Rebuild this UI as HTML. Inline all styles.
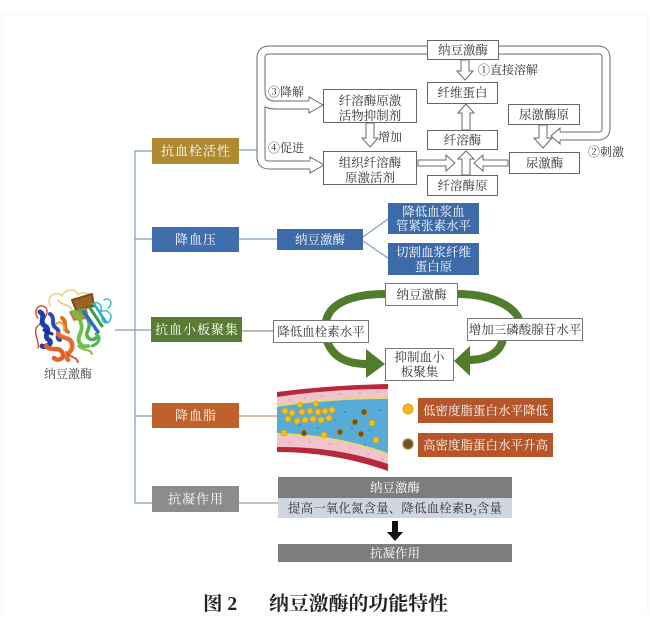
<!DOCTYPE html>
<html><head><meta charset="utf-8"><style>
html,body{margin:0;padding:0;background:#fff;}
svg{display:block;}
text{font-family:"Liberation Serif","Noto Serif CJK SC",serif;}
</style></head><body>
<svg width="650" height="618" viewBox="0 0 650 618" xmlns="http://www.w3.org/2000/svg">
<rect x="2" y="14" width="646" height="602" fill="#fff" stroke="#f6f6f6" stroke-width="1"/>

<!-- ===== Top mechanism diagram ===== -->
<g fill="none" stroke="#6a6a6a">
  <path d="M427,50 L269,50 Q261,50 261,58 L261,157 Q261,165 269,165 L310,165" stroke-width="9"/>
  <path d="M261,90 Q261,105 275,105 L309,105" stroke-width="9"/>
  <path d="M499,50 L598,50 Q606,50 606,58 L606,128 Q606,136 598,136 L560,136" stroke-width="9"/>
</g>
<g fill="none" stroke="#fff">
  <path d="M427,50 L269,50 Q261,50 261,58 L261,157 Q261,165 269,165 L310,165" stroke-width="7"/>
  <path d="M261,90 Q261,105 275,105 L309,105" stroke-width="7"/>
  <path d="M499,50 L598,50 Q606,50 606,58 L606,128 Q606,136 598,136 L560,136" stroke-width="7"/>
</g>
<g fill="#fff" stroke="#6a6a6a" stroke-width="1">
  <path d="M309,100.5 L309,97 L323,105 L309,113 L309,109.5"/>
  <path d="M310,160.5 L310,157 L324,165 L310,173 L310,169.5"/>
  <path d="M560,131.5 L560,128 L551,136 L560,144 L560,140.5"/>
  <polygon points="461,60 469,60 469,71 473,71 465,80 457,71 461,71"/>
  <polygon points="466,104 474,113 470,113 470,130 462,130 462,113 458,113"/>
  <polygon points="466,151 474,159 470,159 470,175 462,175 462,159 458,159"/>
  <polygon points="366,123 374,123 374,138 378,138 370,147 362,138 366,138"/>
  <polygon points="539,125 547,125 547,138 552,138 543,148 534,138 539,138"/>
  <polygon points="418,160 446,160 446,155 455,163 446,171 446,166 418,166"/>
  <polygon points="508,160 483,160 483,155 474,163 483,171 483,166 508,166"/>
</g>
<g fill="#fff" stroke="#666" stroke-width="1">
  <rect x="427.5" y="40.5" width="71" height="19"/>
  <rect x="427.5" y="82.5" width="70" height="21"/>
  <rect x="323.5" y="89.5" width="93" height="33"/>
  <rect x="323.5" y="151.5" width="93" height="33"/>
  <rect x="427.5" y="130.5" width="70" height="19"/>
  <rect x="427.5" y="175.5" width="70" height="20"/>
  <rect x="508.5" y="104.5" width="71" height="20"/>
  <rect x="509.5" y="152.5" width="70" height="21"/>
</g>
<g fill="#333" font-size="12.5" text-anchor="middle">
  <text x="463" y="54.5">纳豆激酶</text>
  <text x="462.5" y="97">纤维蛋白</text>
  <text x="370" y="105">纤溶酶原激</text>
  <text x="370" y="120">活物抑制剂</text>
  <text x="370" y="167">组织纤溶酶</text>
  <text x="370" y="182">原激活剂</text>
  <text x="462.5" y="144.5">纤溶酶</text>
  <text x="462.5" y="190">纤溶酶原</text>
  <text x="544" y="119">尿激酶原</text>
  <text x="544.5" y="167.5">尿激酶</text>
</g>
<g fill="#333" font-size="12">
  <text x="478" y="74">①直接溶解</text>
  <text x="268" y="96">③降解</text>
  <text x="268" y="152">④促进</text>
  <text x="378" y="141">增加</text>
  <text x="588" y="156">②刺激</text>
</g>

<!-- ===== Tree connectors ===== -->
<g fill="none" stroke="#7f9dc0" stroke-width="1.2">
  <path d="M152,151 L135,151 L135,503 L152,503"/>
  <path d="M135,239 L152,239"/>
  <path d="M115,330 L151,330"/>
  <path d="M135,416 L152,416"/>
  <path d="M239,150 L258,150"/>
  <path d="M239,239 L277,239"/>
  <path d="M363,237 L388,219"/>
  <path d="M363,241 L388,258"/>
</g>
<path d="M242,331 L273,331" stroke="#8a9a78" stroke-width="1.2"/>
<path d="M239,416 L277,416" stroke="#c99572" stroke-width="1.2"/>
<path d="M239,503 L278,503" stroke="#9a9a9a" stroke-width="1.2"/>

<!-- ===== Left colored boxes ===== -->
<rect x="152" y="138" width="87" height="26" fill="#b08a30"/>
<rect x="152" y="227" width="87" height="25" fill="#3f6eae"/>
<rect x="151" y="317" width="91" height="25" fill="#5a7b36"/>
<rect x="152" y="403" width="87" height="25" fill="#c0612c"/>
<rect x="152" y="486" width="87" height="26" fill="#8c8c8c"/>
<g fill="#fff" font-size="13" text-anchor="middle" letter-spacing="1">
  <text x="196" y="155.5">抗血栓活性</text>
  <text x="196" y="244">降血压</text>
  <text x="197" y="334">抗血小板聚集</text>
  <text x="196" y="420">降血脂</text>
  <text x="196" y="503.5">抗凝作用</text>
</g>

<!-- ===== Blood pressure ===== -->
<rect x="277" y="229" width="86" height="21" fill="#3d6aa8"/>
<rect x="388" y="203" width="91" height="31" fill="#3d6aa8"/>
<rect x="388" y="243" width="91" height="32" fill="#3d6aa8"/>
<g fill="#fff" font-size="12.5" text-anchor="middle">
  <text x="320" y="244">纳豆激酶</text>
  <text x="433.5" y="216">降低血浆血</text>
  <text x="433.5" y="230">管紧张素水平</text>
  <text x="433.5" y="256.5">切割血浆纤维</text>
  <text x="433.5" y="271">蛋白原</text>
</g>

<!-- ===== Platelet cycle ===== -->
<g fill="none" stroke="#4f7d2c" stroke-width="8">
  <path d="M326,321 C330,303 352,294 386,294"/>
  <path d="M457,294 C488,294 512,304 519,319"/>
  <path d="M327,341 C333,358 348,364 368,364"/>
  <path d="M503,339 C500,353 487,360 468,360"/>
</g>
<g fill="#4f7d2c">
  <polygon points="366,349 385,364 366,378"/>
  <polygon points="470,346 454,361 470,376"/>
</g>
<g fill="#fff" stroke="#777" stroke-width="1">
  <rect x="273.5" y="320.5" width="95" height="22"/>
  <rect x="385.5" y="283.5" width="72" height="22"/>
  <rect x="467.5" y="318.5" width="115" height="22"/>
  <rect x="385.5" y="348.5" width="68" height="32"/>
</g>
<g fill="#333" font-size="12.5" text-anchor="middle">
  <text x="321" y="336">降低血栓素水平</text>
  <text x="421.5" y="299">纳豆激酶</text>
  <text x="525" y="334">增加三磷酸腺苷水平</text>
  <text x="419.5" y="361.5">抑制血小</text>
  <text x="419.5" y="376">板聚集</text>
</g>

<!-- ===== Lipid / artery ===== -->
<path d="M277,392 Q330,385 388,384 L388,471 Q335,452 277,452 Z" fill="#b8283a"/>
<path d="M277,397 Q330,389 388,389 L388,464 Q335,446 277,447 Z" fill="#f0c3cd"/>
<path d="M277,405 Q330,397 388,397 L388,455 Q335,436 277,435 Z" fill="#e6d873"/>
<path d="M277,407 Q330,399 388,399 L388,453 Q335,434 277,433 Z" fill="#56acd6"/>
<g fill="#c98a9a">
  <circle cx="290" cy="400" r="0.8"/><circle cx="305" cy="398" r="0.8"/><circle cx="322" cy="396" r="0.8"/>
  <circle cx="340" cy="394" r="0.8"/><circle cx="360" cy="393" r="0.8"/><circle cx="378" cy="392" r="0.8"/>
  <circle cx="290" cy="442" r="0.8"/><circle cx="310" cy="442" r="0.8"/><circle cx="330" cy="444" r="0.8"/>
  <circle cx="350" cy="448" r="0.8"/><circle cx="368" cy="454" r="0.8"/><circle cx="382" cy="459" r="0.8"/>
</g>
<g fill="#2f6f9a">
  <circle cx="345" cy="412" r="0.8"/><circle cx="352" cy="428" r="0.8"/><circle cx="335" cy="420" r="0.8"/>
  <circle cx="370" cy="430" r="0.8"/><circle cx="380" cy="410" r="0.8"/><circle cx="365" cy="445" r="0.8"/>
  <circle cx="318" cy="428" r="0.8"/><circle cx="300" cy="425" r="0.8"/>
</g>
<g fill="#f2c21c" stroke="#d89a10" stroke-width="0.8">
  <circle cx="285" cy="411" r="3"/><circle cx="292" cy="413" r="3"/><circle cx="302" cy="412" r="3"/>
  <circle cx="310" cy="411" r="3"/><circle cx="318" cy="412" r="3"/><circle cx="325" cy="411" r="3"/>
  <circle cx="332" cy="410" r="3"/><circle cx="288" cy="419" r="3"/><circle cx="297" cy="421" r="3"/>
  <circle cx="305" cy="420" r="3"/><circle cx="313" cy="419" r="3"/><circle cx="321" cy="420" r="3"/>
  <circle cx="329" cy="418" r="3"/><circle cx="300" cy="405" r="2.6"/><circle cx="316" cy="404" r="2.6"/>
  <circle cx="284" cy="433" r="3"/><circle cx="324" cy="435" r="3"/><circle cx="372" cy="423" r="3"/>
  <circle cx="376" cy="440" r="3"/>
</g>
<g fill="#6b5322" stroke="#b89430" stroke-width="0.8">
  <circle cx="304" cy="433" r="3"/><circle cx="340" cy="432" r="3"/><circle cx="355" cy="422" r="3"/>
  <circle cx="364" cy="412" r="3"/><circle cx="361" cy="434" r="3"/>
</g>
<circle cx="408" cy="409" r="5" fill="#f2b81c" stroke="#e0a010" stroke-width="1"/>
<circle cx="408" cy="444" r="5" fill="#6b5322" stroke="#a08030" stroke-width="1.2"/>
<rect x="418" y="398" width="135" height="25" fill="#b5562a"/>
<rect x="418" y="433" width="135" height="24" fill="#b5562a"/>
<g fill="#fff" font-size="12.5" text-anchor="middle">
  <text x="485.5" y="415">低密度脂蛋白水平降低</text>
  <text x="485.5" y="449.5">高密度脂蛋白水平升高</text>
</g>

<!-- ===== Anticoagulation ===== -->
<rect x="278" y="477" width="234" height="21" fill="#7d7d7d"/>
<rect x="278" y="498" width="234" height="20" fill="#cfd6e2"/>
<rect x="278" y="544" width="234" height="18" fill="#7d7d7d"/>
<g fill="#fff" font-size="12.5" text-anchor="middle">
  <text x="395" y="492">纳豆激酶</text>
  <text x="395" y="557.5">抗凝作用</text>
</g>
<text x="288" y="512.5" font-size="12.5" fill="#333" textLength="214" lengthAdjust="spacing">提高一氧化氮含量、降低血栓素B<tspan font-size="8" dy="2">2</tspan><tspan dy="-2">含量</tspan></text>
<polygon points="392,521 398,521 398,532 403,532 395,541 387,532 392,532" fill="#111"/>

<!-- ===== Protein ===== -->
<g fill="none" stroke-linecap="round" stroke-linejoin="round">
  <!-- yellow loops top -->
  <path d="M50,306 C46,296 56,290 62,296 C66,288 76,288 78,295 C84,290 92,294 90,300" stroke="#e8d27a" stroke-width="1.4"/>
  <path d="M58,300 C62,306 70,304 72,310" stroke="#e6c15a" stroke-width="1.4"/>
  <!-- brown sheet -->
  <path d="M72,300 L92,294 L94,306 L76,310 Z" stroke="#7a4a18" stroke-width="2" fill="#9a6424"/>
  <path d="M70,312 L86,308 L88,318 L74,320 Z" stroke="#b07a30" stroke-width="1.5" fill="#c88a38"/>
  <!-- red thin loops left -->
  <path d="M38,318 C32,310 40,302 46,308 C50,314 42,322 36,328 C34,336 40,342 38,348" stroke="#d44a2a" stroke-width="1.4"/>
  <!-- blue helices left -->
  <path d="M40,312 C47,316 38,322 45,326 C52,330 42,336 49,340 C54,344 44,348 42,346" stroke="#1f3fa8" stroke-width="5"/>
  <path d="M50,314 C56,318 50,324 56,328 C62,332 54,338 60,340" stroke="#2a4cb8" stroke-width="4"/>
  <path d="M44,330 L52,334" stroke="#1a2f8a" stroke-width="3"/>
  <!-- orange bottom -->
  <path d="M46,346 C52,352 58,346 62,352 C66,358 58,362 54,358" stroke="#e0602a" stroke-width="4.5"/>
  <path d="M58,334 C64,340 70,336 72,344 C74,352 64,354 68,360" stroke="#e86a30" stroke-width="4.5"/>
  <path d="M62,318 C68,322 62,328 68,332" stroke="#d8702a" stroke-width="4"/>
  <path d="M56,324 C60,320 66,324 64,330" stroke="#f0a020" stroke-width="2"/>
  <!-- green / cyan right -->
  <path d="M74,312 C80,318 84,326 80,334 C76,342 82,348 88,346" stroke="#6cc04a" stroke-width="4"/>
  <path d="M80,310 C86,316 92,322 88,330 C84,338 92,342 96,338" stroke="#4ab050" stroke-width="3.5"/>
  <path d="M84,312 L98,332" stroke="#2a6ad0" stroke-width="3.5"/>
  <path d="M90,308 L102,326" stroke="#3aa04a" stroke-width="3"/>
  <path d="M94,304 L106,322" stroke="#2ab0a8" stroke-width="2.5"/>
  <path d="M92,304 C98,300 104,306 100,312 C106,308 114,314 110,320 C108,326 100,322 102,316" stroke="#2ab8c8" stroke-width="1.4"/>
  <path d="M104,300 C110,296 114,304 108,308" stroke="#38c0b0" stroke-width="1.4"/>
  <path d="M96,334 C102,338 98,344 92,346" stroke="#48b858" stroke-width="3"/>
  <path d="M78,346 C84,352 90,348 92,354" stroke="#7ac048" stroke-width="2"/>
  <path d="M66,352 C70,358 76,356 78,362" stroke="#c8602a" stroke-width="2"/>
</g>
<text x="68" y="378" font-size="12" fill="#444" text-anchor="middle">纳豆激酶</text>

<!-- ===== Caption ===== -->
<g font-weight="700" fill="#222" font-size="19.5">
  <text x="203" y="610">图 2</text>
  <text x="269" y="610" textLength="179" lengthAdjust="spacingAndGlyphs">纳豆激酶的功能特性</text>
</g>
</svg>
</body></html>
